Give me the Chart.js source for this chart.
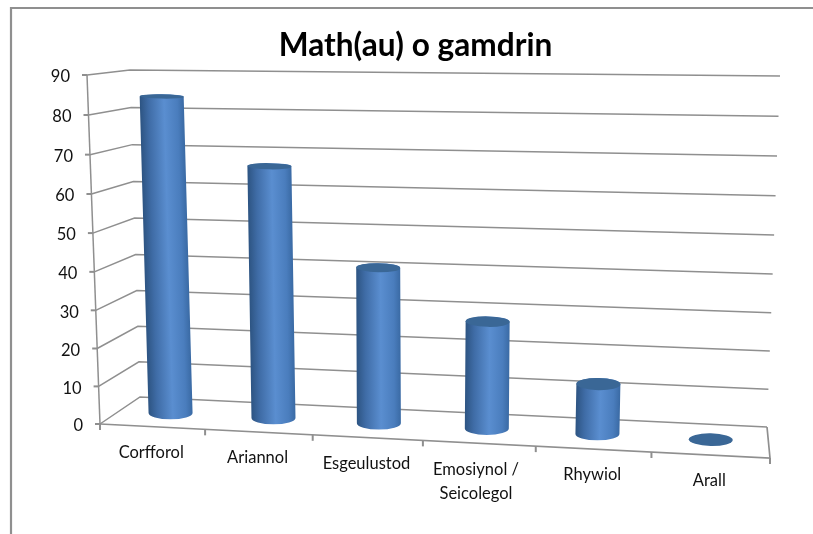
<!DOCTYPE html>
<html>
<head>
<meta charset="utf-8">
<title>Math(au) o gamdrin</title>
<script src="https://cdn.jsdelivr.net/npm/chart.js@4"></script>
<style>
html, body { margin: 0; padding: 0; background: #fff; }
#wrap { width: 813px; height: 534px; }
</style>
</head>
<body>
<div id="wrap"><canvas id="chart" width="813" height="534"></canvas></div>
<script>
// values
var categories = ['Corfforol', 'Ariannol', 'Esgeulustod', ['Emosiynol /', 'Seicolegol'], 'Rhywiol', 'Arall'];
var values = [84, 66.5, 41, 28, 13, 0];
var yTicks = [0, 10, 20, 30, 40, 50, 60, 70, 80, 90];

// corners of the 3D box on the page
var frontBottomLeft = [100, 424], frontBottomRight = [770, 458];
var frontTopLeft = [87, 75], frontTopRight = [784, 83];
var backBottomLeft = [140, 397], backBottomRight = [767, 427];
var backTopLeft = [130, 70], backTopRight = [780, 76];
var PERSPECTIVE = 1.075;
var PERSPECTIVE_UP = 1.035;
var BAR_DEPTH = 0.5;
var LINE = '#8f8f8f';
var FONT = 'Lato, Carlito, sans-serif';

function mix(a, b, t) {
    return [a[0] + (b[0] - a[0]) * t, a[1] + (b[1] - a[1]) * t];
}

// u along the categories, v up the value axis, d from front (0) to back (1)
function project(u, v, d) {
    var s = u / (u + (1 - u) * PERSPECTIVE);
    var w = v / (v + (1 - v) * PERSPECTIVE_UP);
    var front = mix(mix(frontBottomLeft, frontBottomRight, s), mix(frontTopLeft, frontTopRight, s), w);
    var back = mix(mix(backBottomLeft, backBottomRight, s), mix(backTopLeft, backTopRight, s), w);
    return mix(front, back, d);
}

function line(ctx, pts, width) {
    ctx.beginPath();
    ctx.moveTo(pts[0][0], pts[0][1]);
    for (var i = 1; i < pts.length; i++) {
        ctx.lineTo(pts[i][0], pts[i][1]);
    }
    ctx.lineWidth = width;
    ctx.strokeStyle = LINE;
    ctx.stroke();
}

function getU(chart, px) {
    var a = chart.chartArea;
    return (px - a.left) / (a.right - a.left);
}

function getV(chart, py) {
    var a = chart.chartArea;
    return (a.bottom - py) / (a.bottom - a.top);
}

var boxPlugin = {
    id: 'box3d',
    beforeDatasetsDraw: function (chart) {
        var ctx = chart.ctx;
        var xs = chart.scales.x, ys = chart.scales.y;
        ctx.save();

        // outer frame, only left and top are in the picture
        line(ctx, [[11, 534], [11, 8], [813, 8]], 2.2);

        // walls
        yTicks.forEach(function (t) {
            var v = getV(chart, ys.getPixelForValue(t));
            var p = project(0, v, 0);
            line(ctx, [p, project(0, v, 1), project(1, v, 1)], 1.5);
            line(ctx, [[p[0] - 5, p[1]], p], 2);
            ctx.font = '16.5px ' + FONT;
            ctx.fillStyle = '#111';
            ctx.textAlign = 'right';
            ctx.textBaseline = 'middle';
            ctx.fillText(String(t), p[0] - 17, p[1] + 2);
        });

        // floor and axes
        line(ctx, [project(0, 0, 0), project(0, 1, 0)], 1.5);
        line(ctx, [project(0, 0, 0), project(1, 0, 0), project(1, 0, 1)], 1.7);

        categories.forEach(function (c, i) {
            var p = project(getU(chart, xs.getPixelForValue(i - 0.5)), 0, 0);
            line(ctx, [p, [p[0], p[1] + 6]], 2);
        });
        var end = project(1, 0, 0);
        line(ctx, [end, [end[0], end[1] + 6]], 2);

        categories.forEach(function (c, i) {
            var p = project(getU(chart, xs.getPixelForValue(i)), 0, 0);
            var rows = Array.isArray(c) ? c : [c];
            ctx.font = '16.5px ' + FONT;
            ctx.fillStyle = '#111';
            ctx.textAlign = 'center';
            ctx.textBaseline = 'middle';
            rows.forEach(function (row, r) {
                ctx.fillText(row, p[0] + (rows.length > 1 ? -3 : -1), p[1] + 26 + r * 24);
            });
        });
        ctx.restore();
    },
    // the library lays the bars out, they get painted as cylinders here
    beforeDatasetDraw: function (chart, args) {
        var ctx = chart.ctx;
        var bars = chart.getDatasetMeta(args.index).data;
        ctx.save();
        bars.forEach(function (bar) {
            var u = getU(chart, bar.x);
            var vTop = getV(chart, bar.y);
            var top = project(u, vTop, BAR_DEPTH);
            var base = project(u, 0, BAR_DEPTH);
            var hw = bar.width / 2;
            var hhTop = 6.8 - 5 * vTop;
            var hhBase = 6.3;

            if (vTop > 0.001) {
                var mid = mix(top, base, 0.5);
                var len = Math.hypot(base[0] - top[0], base[1] - top[1]);
                var nx = (base[1] - top[1]) / len, ny = -(base[0] - top[0]) / len;
                var g = ctx.createLinearGradient(mid[0] - nx * hw, mid[1] - ny * hw, mid[0] + nx * hw, mid[1] + ny * hw);
                g.addColorStop(0, '#2d5482');
                g.addColorStop(0.2, '#3f6ca6');
                g.addColorStop(0.55, '#5a8ed0');
                g.addColorStop(0.85, '#4a7dbd');
                g.addColorStop(1, '#3a6aa4');
                ctx.beginPath();
                ctx.moveTo(top[0] - hw, top[1]);
                ctx.lineTo(base[0] - hw, base[1]);
                ctx.ellipse(base[0], base[1], hw, hhBase, 0, Math.PI, 0, true);
                ctx.lineTo(top[0] + hw, top[1]);
                ctx.ellipse(top[0], top[1], hw, hhTop, 0, 0, Math.PI, true);
                ctx.closePath();
                ctx.fillStyle = g;
                ctx.fill();
            }
            ctx.beginPath();
            ctx.ellipse(top[0], top[1], hw, vTop > 0.001 ? hhTop : hhBase, 0.02, 0, Math.PI * 2);
            ctx.fillStyle = '#3a6796';
            ctx.fill();
        });
        ctx.restore();
        return false;
    }
};

var myChart = new Chart(document.getElementById('chart').getContext('2d'), {
    type: 'bar',
    data: {
        labels: categories,
        datasets: [{
            label: 'Math(au) o gamdrin',
            data: values,
            backgroundColor: '#4f81bd',
            barThickness: 44
        }]
    },
    options: {
        responsive: false,
        animation: false,
        layout: { padding: { left: 18, right: 0, top: 27, bottom: 60 } },
        plugins: {
            legend: { display: false },
            tooltip: { enabled: false },
            title: {
                display: true,
                text: 'Math(au) o gamdrin',
                color: '#000',
                font: { family: FONT, size: 31.6, weight: 'bold' },
                padding: { top: 0, bottom: 8 }
            }
        },
        scales: {
            x: { display: false },
            y: { display: false, min: 0, max: 90, ticks: { stepSize: 10 } }
        }
    },
    plugins: [boxPlugin]
});
</script>
</body>
</html>
